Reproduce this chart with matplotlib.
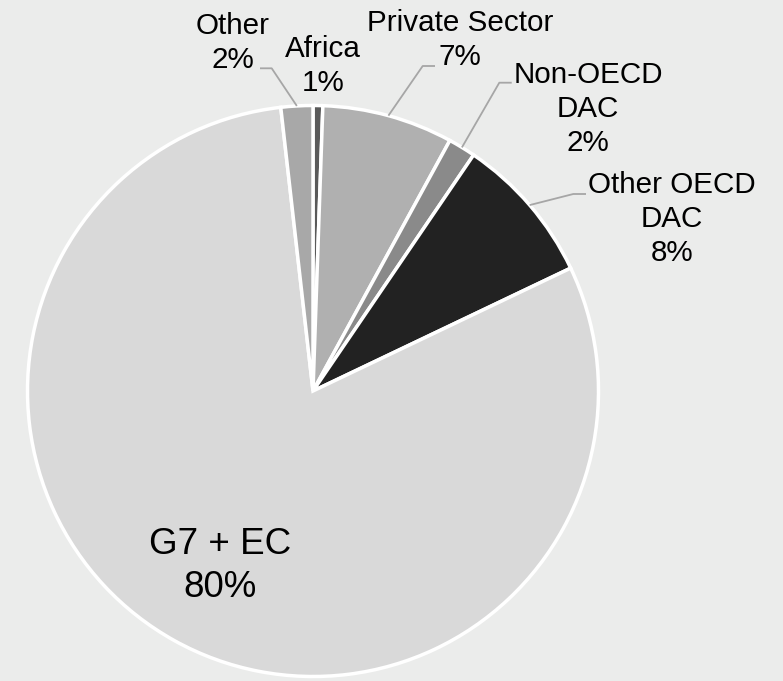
import numpy as np
import matplotlib
matplotlib.use("Agg")
import matplotlib.pyplot as plt

plt.rcParams['font.family'] = ['Liberation Sans', 'DejaVu Sans']

# Data (clockwise from 12 o'clock)
categories = ["Africa", "Private Sector", "Non-OECD\nDAC", "Other OECD\nDAC", "G7 + EC", "Other"]
values = [0.55, 7.4, 1.55, 8.4, 80.2, 1.8]
colors = ["#595959", "#b0b0b0", "#8a8a8a", "#222222", "#d9d9d9", "#a8a8a8"]

W, H = 783, 681
fig = plt.figure(figsize=(W / 100, H / 100), dpi=100)
bg = "#ebeceb"
fig.patch.set_facecolor(bg)
ax = fig.add_axes([0, 0, 1, 1])
ax.set_facecolor(bg)

cx, cy_top = 313, 391
cy = H - cy_top
R = 285.5

wedges, _ = ax.pie(values, colors=colors, startangle=90, counterclock=False,
                   center=(cx, cy), radius=R, frame=True,
                   wedgeprops=dict(edgecolor='white', linewidth=2.5))
ax.set_xlim(0, W)
ax.set_ylim(0, H)
ax.set_aspect('equal')
ax.axis('off')

total = sum(values)
pct = [round(v / total * 100) for v in values]
texts = [f"{c}\n{p}%" for c, p in zip(categories, pct)]

# label positions (pixels from top-left) and leader elbows
label_pos = {
    0: (323, 66),
    1: (460, 40),
    2: (588, 109),
    3: (672, 219),
    4: (220, 566),
    5: (233, 43),
}
leaders = {
    5: [(271.7, 68.3), (260, 68.3)],
    1: [(422.7, 66), (435, 66)],
    2: [(499.3, 82.7), (511.7, 82.7)],
    3: [(573.3, 194), (586, 194)],
}

for i, w in enumerate(wedges):
    x, y = label_pos[i]
    fs = 26.5 if i == 4 else 21.3
    ax.text(x, H - y, texts[i], ha='center', va='center', fontsize=fs,
            color='black', linespacing=1.28)
    if i in leaders:
        mid = np.deg2rad((w.theta1 + w.theta2) / 2)
        sx = cx + R * np.cos(mid)
        sy = cy + R * np.sin(mid)
        pts = [(sx, sy)] + [(px, H - py) for px, py in leaders[i]]
        xs, ys = zip(*pts)
        ax.plot(xs, ys, color='#a6a6a6', linewidth=1.3, solid_capstyle='butt')

fig.savefig("out.png", dpi=100, facecolor=bg)
